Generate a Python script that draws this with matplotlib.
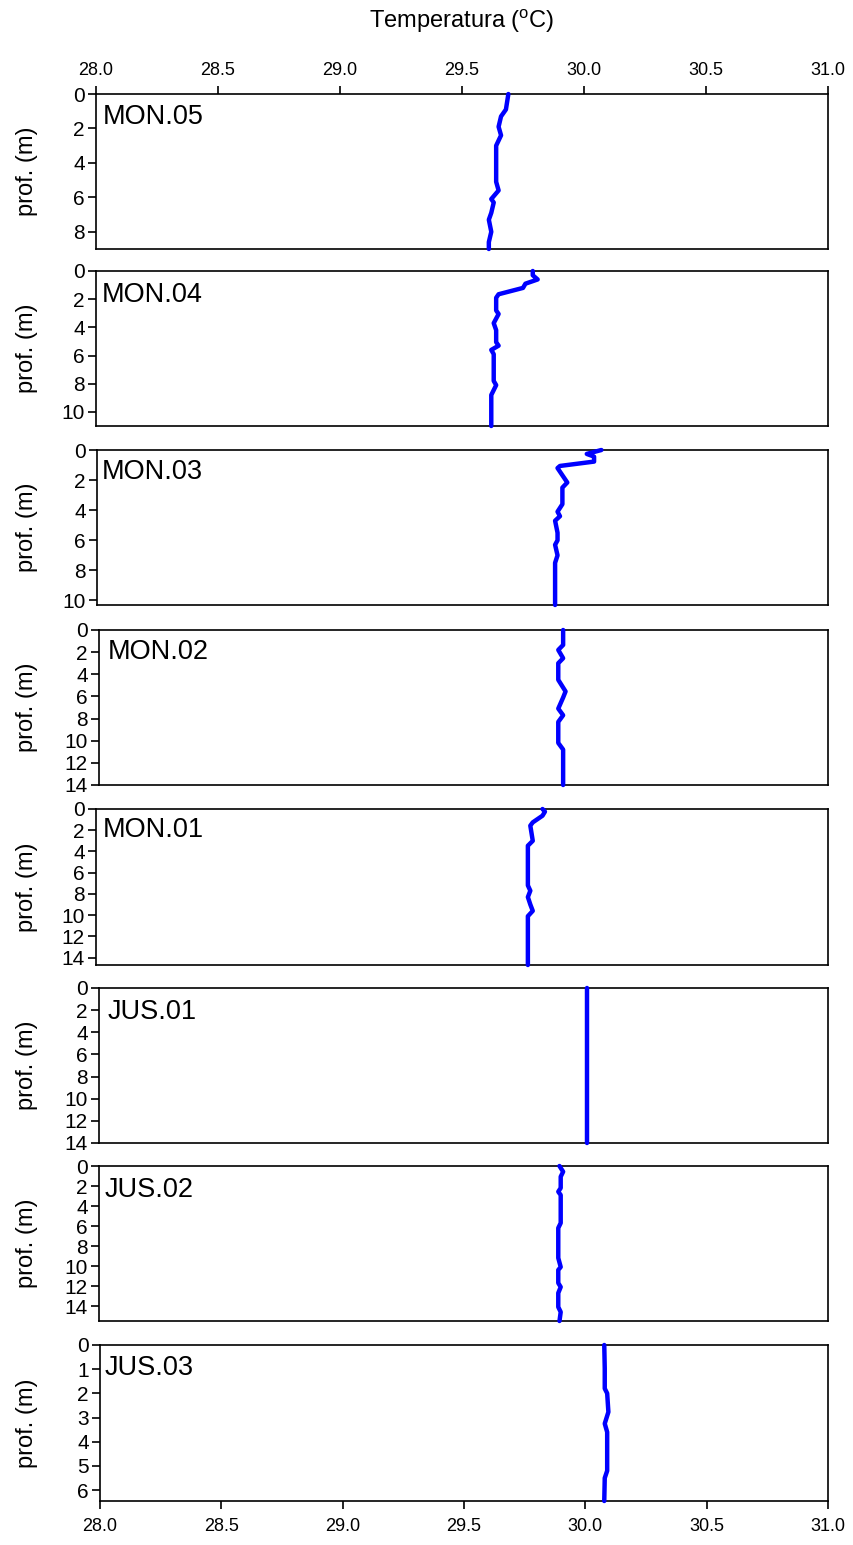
import matplotlib
matplotlib.use('Agg')
import matplotlib.pyplot as plt

plt.rcParams['font.family'] = ['Liberation Sans', 'DejaVu Sans']

# temperature profiles, depth (m) vs temperature (degC)
stations = ['MON.05', 'MON.04', 'MON.03', 'MON.02', 'MON.01', 'JUS.01', 'JUS.02', 'JUS.03']

mon05_depth = [0.0, 0.9, 1.3, 1.9, 2.4, 3.0, 3.9, 5.1, 5.6, 6.1, 6.3, 6.9, 7.3, 8.0, 8.6, 9.0]
mon05_temp = [29.69, 29.68, 29.66, 29.65, 29.66, 29.64, 29.64, 29.64, 29.65, 29.62, 29.63, 29.62, 29.61, 29.62, 29.61, 29.61]

mon04_depth = [0.0, 0.3, 0.6, 0.9, 1.2, 1.65, 1.9, 2.8, 3.05, 3.7, 4.2, 5.05, 5.3, 5.6, 5.9, 7.8, 8.1, 8.8, 11.0]
mon04_temp = [29.79, 29.79, 29.81, 29.76, 29.75, 29.65, 29.64, 29.64, 29.65, 29.63, 29.64, 29.64, 29.65, 29.62, 29.63, 29.63, 29.64, 29.62, 29.62]

mon03_depth = [0.0, 0.26, 0.44, 0.77, 1.06, 1.2, 2.16, 2.5, 3.6, 4.1, 4.4, 4.7, 5.5, 6.0, 6.3, 7.0, 7.5, 10.3]
mon03_temp = [30.07, 30.01, 30.04, 30.04, 29.90, 29.89, 29.93, 29.91, 29.91, 29.89, 29.90, 29.88, 29.89, 29.89, 29.88, 29.89, 29.88, 29.88]

mon02_depth = [0.0, 1.35, 1.8, 2.55, 3.0, 4.5, 5.55, 6.1, 7.1, 7.7, 8.3, 10.2, 10.8, 14.0]
mon02_temp = [29.91, 29.91, 29.89, 29.91, 29.89, 29.89, 29.92, 29.91, 29.89, 29.91, 29.89, 29.89, 29.91, 29.91]

mon01_depth = [0.0, 0.25, 0.63, 1.26, 1.57, 3.0, 3.46, 7.2, 7.7, 8.3, 9.0, 9.6, 10.1, 14.7]
mon01_temp = [29.83, 29.84, 29.83, 29.79, 29.78, 29.79, 29.77, 29.77, 29.78, 29.77, 29.78, 29.79, 29.77, 29.77]

jus01_depth = [0.0, 4.0, 8.0, 12.0, 14.0]
jus01_temp = [30.01, 30.01, 30.01, 30.01, 30.01]

jus02_depth = [0.0, 0.57, 1.07, 2.2, 2.57, 2.9, 5.7, 6.2, 9.2, 10.1, 10.4, 11.7, 12.1, 12.7, 14.1, 14.6, 15.5]
jus02_temp = [29.895, 29.91, 29.90, 29.90, 29.89, 29.90, 29.90, 29.89, 29.89, 29.90, 29.89, 29.89, 29.90, 29.89, 29.89, 29.90, 29.895]

jus03_depth = [0.0, 0.97, 1.8, 2.0, 2.77, 3.25, 3.6, 5.2, 5.5, 6.45]
jus03_temp = [30.078, 30.08, 30.08, 30.09, 30.095, 30.08, 30.09, 30.09, 30.08, 30.078]

depths = [mon05_depth, mon04_depth, mon03_depth, mon02_depth, mon01_depth, jus01_depth, jus02_depth, jus03_depth]
temps = [mon05_temp, mon04_temp, mon03_temp, mon02_temp, mon01_temp, jus01_temp, jus02_temp, jus03_temp]
max_depth = [9.0, 11.0, 10.3, 14.0, 14.7, 14.0, 15.5, 6.45]
tick_step = [2, 2, 2, 2, 2, 2, 2, 1]
tick_max = [8, 10, 10, 14, 14, 14, 14, 6]

# panel placement in pixels
W, H = 854, 1545
lefts = [96, 96, 97, 99, 96, 99, 99, 100]
right = 828
tops = [94, 271, 450, 630, 809, 988, 1166, 1345]
bottoms = [249, 426, 605, 785, 965, 1143, 1321, 1501]
label_xy = [(103, 117), (102, 295), (102, 472), (108, 652), (103, 830), (108, 1012), (105, 1190), (105, 1368)]

fig = plt.figure(figsize=(W / 100, H / 100), dpi=100)

for i in range(len(stations)):
    l, t, b = lefts[i], tops[i], bottoms[i]
    ax = fig.add_axes([l / W, 1 - b / H, (right - l) / W, (b - t) / H])
    ax.plot(temps[i], depths[i], color='#0000ff', lw=3.2,
            solid_joinstyle='round', solid_capstyle='round', clip_on=False, zorder=3)
    ax.set_xlim(28.0, 31.0)
    ax.set_ylim(max_depth[i], 0)
    ax.set_yticks(range(0, tick_max[i] + 1, tick_step[i]))
    ax.tick_params(axis='y', direction='out', length=6, width=1.2, labelsize=15, pad=2)
    ax.set_xticks([28.0, 28.5, 29.0, 29.5, 30.0, 30.5, 31.0])
    if i == 0:
        ax.xaxis.tick_top()
        ax.tick_params(axis='x', direction='out', length=6, width=1.2, labelsize=13, pad=5)
    elif i == len(stations) - 1:
        ax.tick_params(axis='x', direction='out', length=6, width=1.2, labelsize=13, pad=6)
    else:
        ax.tick_params(axis='x', bottom=False, labelbottom=False)
    ax.xaxis.set_major_formatter(matplotlib.ticker.FormatStrFormatter('%.1f'))
    for s in ax.spines.values():
        s.set_linewidth(1.2)
    ax.set_ylabel('prof. (m)', fontsize=17)
    ax.yaxis.set_label_coords(38 / W, 1 - (t + b) / 2 / H, transform=fig.transFigure)
    lx, ly = label_xy[i]
    ax.text((lx - l) / (right - l), (b - ly) / (b - t), stations[i], fontsize=19.5,
            ha='left', va='center', transform=ax.transAxes)

fig.text(462 / W, 1 - 21 / H, r'Temperatura ($\mathregular{^o}$C)', fontsize=17,
         ha='center', va='center')

fig.savefig('out.png', dpi=100)
